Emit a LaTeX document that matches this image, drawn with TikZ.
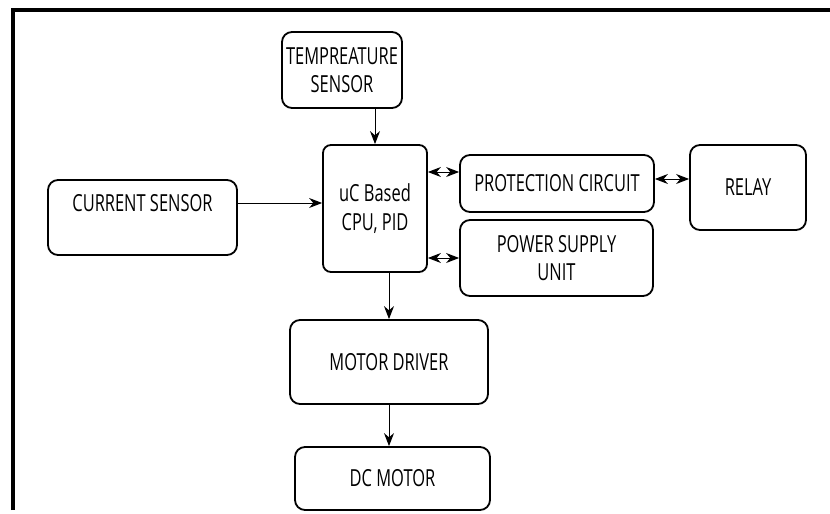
\documentclass[tikz,border=0pt]{standalone}
\usepackage{fontspec}
\setmainfont{Open Sans}[FakeStretch=0.7]
\usetikzlibrary{arrows.meta,positioning,calc}

\begin{document}
\begin{tikzpicture}[x=1pt, y=-1pt,
  every node/.style={font=\fontsize{23.5}{28.5}\selectfont},
  block/.style={draw, line width=1.8pt, rounded corners=10pt, align=center, inner sep=0pt},
  arr/.style={-{Stealth[length=13pt,width=10pt]}, line width=1pt},
  biarr/.style={{Stealth[length=13pt,width=10pt]}-{Stealth[length=13pt,width=10pt]}, line width=1pt}]
  \useasboundingbox (0,0) rectangle (830,514);
  % frame
  \draw[line width=3.2pt] (13,510) -- (13,10) -- (830,10);
  % blocks
  \node[block, minimum width=120pt, minimum height=76pt] (temp) at (342,70) {TEMPREATURE\\SENSOR};
  \node[block, rounded corners=8pt, minimum width=104pt, minimum height=127pt] (uc) at (375,208.5) {uC Based\\CPU, PID};
  \node[block, minimum width=189pt, minimum height=75pt] (cur) at (142.5,217.5) {CURRENT SENSOR\\\mbox{}};
  \node[block, minimum width=194pt, minimum height=57pt] (prot) at (557,183.5) {PROTECTION CIRCUIT};
  \node[block, minimum width=193pt, minimum height=76pt] (psu) at (556.5,258) {POWER SUPPLY\\UNIT};
  \node[block, minimum width=116pt, minimum height=85pt] (relay) at (748,187.5) {RELAY};
  \node[block, minimum width=198pt, minimum height=84pt] (mdrv) at (389,362) {MOTOR DRIVER};
  \node[block, minimum width=195pt, minimum height=63pt] (dcm) at (392.5,478.5) {DC MOTOR};
  % connectors
  \coordinate (protin) at ([yshift=11.5pt]prot.west);
  \coordinate (protout) at ([yshift=4.5pt]prot.east);
  \coordinate (curout) at ([yshift=14.5pt]cur.east);
  \draw[arr] (uc.north |- temp.south) -- (uc.north);
  \draw[arr] (curout) -- (uc.west |- curout);
  \draw[biarr] (uc.east |- protin) -- (protin);
  \draw[biarr] (uc.east |- psu.west) -- (psu.west);
  \draw[biarr] (protout) -- (relay.west |- protout);
  \draw[arr] (uc.south -| mdrv.north) -- (mdrv.north);
  \draw[arr] (mdrv.south) -- (mdrv.south |- dcm.north);
\end{tikzpicture}
\end{document}
